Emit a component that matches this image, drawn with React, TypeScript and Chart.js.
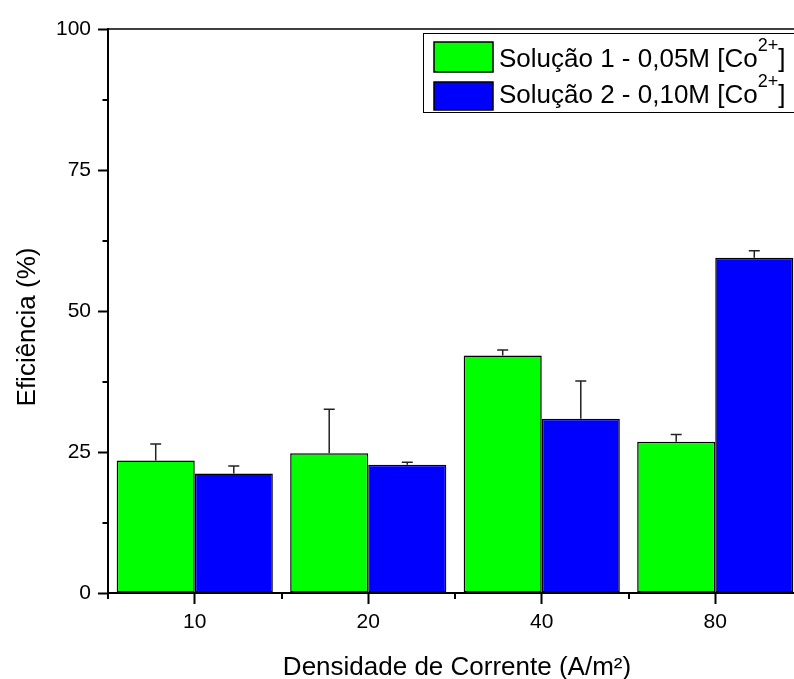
import React, { useEffect, useRef } from 'react';
import { Chart, registerables } from 'chart.js';

Chart.register(...registerables);

const categories = ['10', '20', '40', '80'];
const solution1 = [23.5, 24.8, 42.1, 26.8];
const solution1Err = [2.9, 7.8, 1.0, 1.3];
const solution2 = [21.2, 22.75, 30.9, 59.45];
const solution2Err = [1.3, 0.45, 6.7, 1.25];
const yMinorTicks = [12.5, 37.5, 62.5, 87.5];
const legendPrefixes = ['Solução 1 - 0,05M [Co', 'Solução 2 - 0,10M [Co'];
const legendSup = '2+';
const legendSuffix = ']';
const seriesColors = ['#00ff00', '#0000ff'];
const xTitle = 'Densidade de Corrente (A/m²)';
const yTitle = 'Eficiência (%)';

const FONT = '"Liberation Sans", Arial, Helvetica, sans-serif';
const errorsBySeries = [solution1Err, solution2Err];

const decorPlugin = {
  id: 'decor',
  afterDatasetsDraw(chart: any) {
    const { ctx, scales } = chart;
    const y = scales.y;
    ctx.save();
    ctx.strokeStyle = '#222';
    ctx.lineWidth = 1.5;
    chart.data.datasets.forEach((ds: any, di: number) => {
      const meta = chart.getDatasetMeta(di);
      const errs = errorsBySeries[di];
      meta.data.forEach((bar: any, i: number) => {
        const top = y.getPixelForValue(ds.data[i] + errs[i]);
        ctx.beginPath();
        ctx.moveTo(bar.x, bar.y);
        ctx.lineTo(bar.x, top);
        ctx.moveTo(bar.x - 5.5, top);
        ctx.lineTo(bar.x + 5.5, top);
        ctx.stroke();
      });
    });
    ctx.restore();
  },
  afterDraw(chart: any) {
    const { ctx, chartArea, scales } = chart;
    const x = scales.x;
    const y = scales.y;
    ctx.save();
    // top frame line
    ctx.strokeStyle = '#000';
    ctx.lineWidth = 1.5;
    ctx.beginPath();
    ctx.moveTo(chartArea.left, chartArea.top);
    ctx.lineTo(chartArea.right, chartArea.top);
    ctx.stroke();
    // minor ticks
    ctx.lineWidth = 2;
    ctx.beginPath();
    yMinorTicks.forEach((v) => {
      const py = Math.round(y.getPixelForValue(v));
      ctx.moveTo(chartArea.left - 5.5, py);
      ctx.lineTo(chartArea.left, py);
    });
    for (let i = 0; i <= categories.length; i++) {
      const px = Math.round(x.getPixelForValue(i - 0.5));
      ctx.moveTo(px, chartArea.bottom);
      ctx.lineTo(px, chartArea.bottom + 6);
    }
    ctx.stroke();

    // legend
    const lx = 415;
    const ly = 25;
    ctx.lineWidth = 1;
    ctx.strokeStyle = '#000';
    ctx.strokeRect(lx + 0.5, ly + 0.5, 420, 79);
    const rows = [
      { top: 34, h: 30, base: 59 },
      { top: 74, h: 28, base: 95 },
    ];
    rows.forEach((r, i) => {
      ctx.fillStyle = seriesColors[i];
      ctx.fillRect(426, r.top, 59, r.h);
      ctx.strokeStyle = '#000';
      ctx.lineWidth = 1.5;
      ctx.strokeRect(426, r.top, 59, r.h);
      ctx.fillStyle = '#000';
      ctx.textBaseline = 'alphabetic';
      ctx.textAlign = 'left';
      ctx.font = `26px ${FONT}`;
      let tx = 491;
      ctx.fillText(legendPrefixes[i], tx, r.base);
      tx += ctx.measureText(legendPrefixes[i]).width;
      ctx.font = `18px ${FONT}`;
      ctx.fillText(legendSup, tx, r.base - 16);
      tx += ctx.measureText(legendSup).width;
      ctx.font = `26px ${FONT}`;
      ctx.fillText(legendSuffix, tx, r.base);
    });

    // axis titles
    ctx.fillStyle = '#000';
    ctx.font = `26px ${FONT}`;
    ctx.textAlign = 'center';
    ctx.textBaseline = 'alphabetic';
    ctx.fillText(xTitle, (chartArea.left + chartArea.right) / 2 + 2, 667);
    ctx.translate(27, 319);
    ctx.rotate(-Math.PI / 2);
    ctx.fillText(yTitle, 0, 0);
    ctx.restore();
  },
};

export default function App() {
  const ref = useRef<HTMLCanvasElement | null>(null);
  useEffect(() => {
    if (!ref.current) return;
    Chart.defaults.font.family = FONT;
    const chart = new Chart(ref.current, {
      type: 'bar',
      data: {
        labels: categories,
        datasets: [
          {
            label: legendPrefixes[0] + legendSup + legendSuffix,
            data: solution1,
            backgroundColor: seriesColors[0],
            borderColor: '#000',
            borderWidth: 1.5,
            borderSkipped: false,
            categoryPercentage: 0.9,
            barPercentage: 1.0,
          },
          {
            label: legendPrefixes[1] + legendSup + legendSuffix,
            data: solution2,
            backgroundColor: seriesColors[1],
            borderColor: '#000',
            borderWidth: 1.5,
            borderSkipped: false,
            categoryPercentage: 0.9,
            barPercentage: 1.0,
          },
        ],
      },
      options: {
        responsive: false,
        animation: false,
        devicePixelRatio: 1,
        layout: { padding: { top: 21, right: 26, left: 0, bottom: 0 } },
        plugins: {
          legend: { display: false },
          tooltip: { enabled: false },
          title: { display: false },
        },
        scales: {
          x: {
            type: 'category',
            offset: true,
            grid: {
              display: true,
              drawOnChartArea: false,
              drawTicks: true,
              tickLength: 11,
              tickWidth: 2,
              tickColor: '#000',
              offset: false,
            },
            border: { display: true, color: '#000', width: 2 },
            ticks: { color: '#000', font: { family: FONT, size: 21 }, padding: 6, maxRotation: 0 },
            afterFit: (s: any) => {
              s.height = 86;
            },
          },
          y: {
            min: 0,
            max: 100,
            grid: {
              display: true,
              drawOnChartArea: false,
              drawTicks: true,
              tickLength: 10,
              tickWidth: 2,
              tickColor: '#000',
            },
            border: { display: true, color: '#000', width: 2 },
            ticks: { stepSize: 25, color: '#000', font: { family: FONT, size: 21 }, padding: 7 },
            afterFit: (s: any) => {
              s.width = 100;
            },
          },
        },
      },
      plugins: [decorPlugin],
    } as any);
    return () => chart.destroy();
  }, []);

  return (
    <div
      style={{
        position: 'absolute',
        left: 8,
        top: 8,
        width: 786,
        height: 671,
        overflow: 'hidden',
      }}
    >
      <canvas ref={ref} width={820} height={671} style={{ display: 'block', width: 820, height: 671 }} />
    </div>
  );
}
